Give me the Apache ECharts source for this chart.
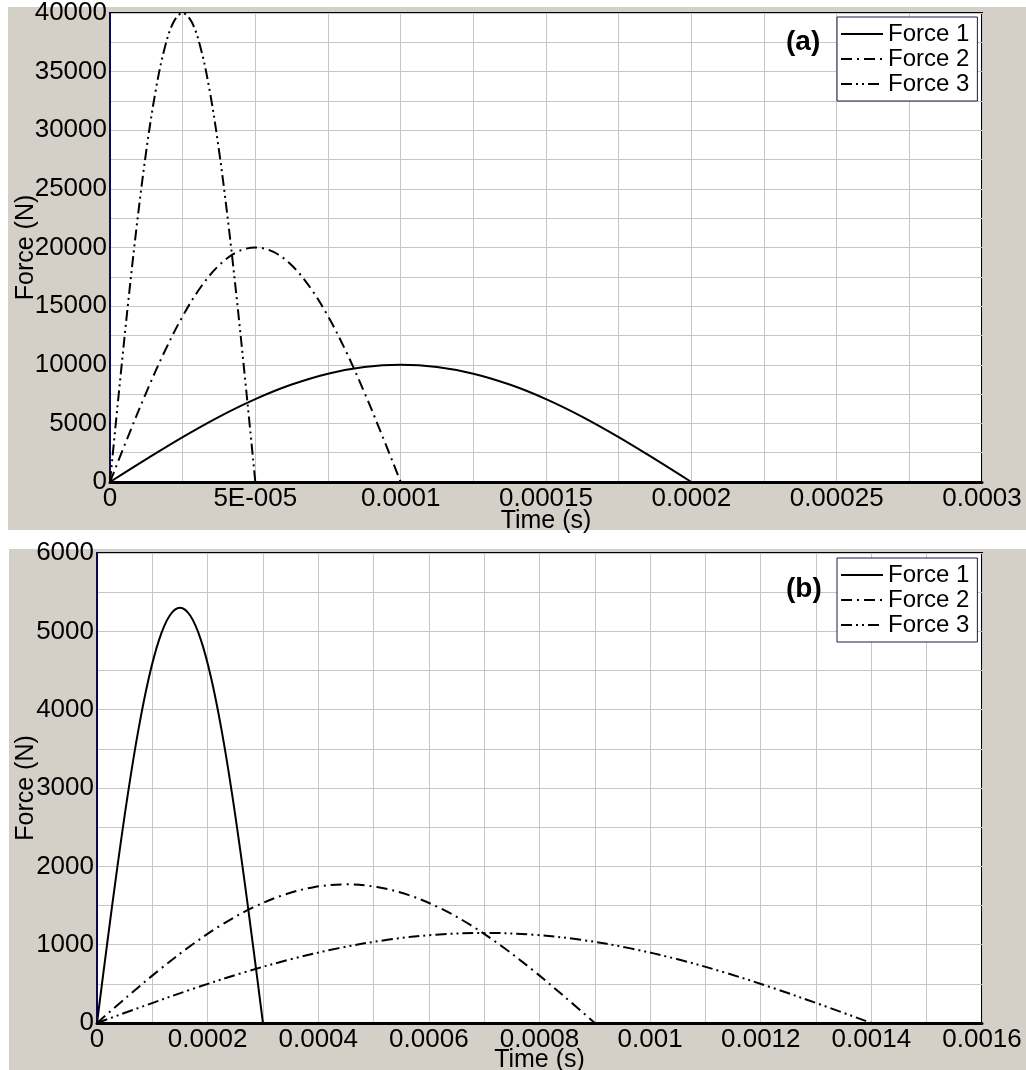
<!DOCTYPE html>
<html>
<head>
<meta charset="utf-8">
<script src="https://cdn.jsdelivr.net/npm/echarts@6/dist/echarts.min.js"></script>
<style>
  html, body { margin: 0; padding: 0; background: #ffffff; }
  #chart { width: 1026px; height: 1070px; }
</style>
</head>
<body>
<div id="chart"></div>
<script>
// ---------- Panel (a) data ----------
// each pulse is followed by a break (null) and then the flat zero tail
const seriesNames = ['Force 1', 'Force 2', 'Force 3'];

const timeA1 = [0, 0.0000125, 0.000025, 0.0000375, 0.00005, 0.0000625, 0.000075, 0.0000875, 0.0001, 0.0001125, 0.000125, 0.0001375, 0.00015, 0.0001625, 0.000175, 0.0001875, 0.0002, 0.0002, 0.0002, 0.0003];
const forceA1 = [0, 1950, 3830, 5560, 7070, 8310, 9240, 9810, 10000, 9810, 9240, 8310, 7070, 5560, 3830, 1950, 0, null, 0, 0];

const timeA2 = [0, 0.00000625, 0.0000125, 0.00001875, 0.000025, 0.00003125, 0.0000375, 0.00004375, 0.00005, 0.00005625, 0.0000625, 0.00006875, 0.000075, 0.00008125, 0.0000875, 0.00009375, 0.0001, 0.0001, 0.0001, 0.0003];
const forceA2 = [0, 3900, 7650, 11110, 14140, 16630, 18480, 19620, 20000, 19620, 18480, 16630, 14140, 11110, 7650, 3900, 0, null, 0, 0];

const timeA3 = [0, 0.000003125, 0.00000625, 0.000009375, 0.0000125, 0.000015625, 0.00001875, 0.000021875, 0.000025, 0.000028125, 0.00003125, 0.000034375, 0.0000375, 0.000040625, 0.00004375, 0.000046875, 0.00005, 0.00005, 0.00005, 0.0003];
const forceA3 = [0, 7800, 15310, 22220, 28280, 33260, 36960, 39230, 40000, 39230, 36960, 33260, 28280, 22220, 15310, 7800, 0, null, 0, 0];

const xLabelsA = ['0', '5E-005', '0.0001', '0.00015', '0.0002', '0.00025', '0.0003'];
const yLabelsA = ['0', '5000', '10000', '15000', '20000', '25000', '30000', '35000', '40000'];

// ---------- Panel (b) data ----------
const timeB1 = [0, 0.00001875, 0.0000375, 0.00005625, 0.000075, 0.00009375, 0.0001125, 0.00013125, 0.00015, 0.00016875, 0.0001875, 0.00020625, 0.000225, 0.00024375, 0.0002625, 0.00028125, 0.0003, 0.0003, 0.0003, 0.0016];
const forceB1 = [0, 1034, 2028, 2945, 3748, 4407, 4897, 5198, 5300, 5198, 4897, 4407, 3748, 2945, 2028, 1034, 0, null, 0, 0];

const timeB2 = [0, 0.00005625, 0.0001125, 0.00016875, 0.000225, 0.00028125, 0.0003375, 0.00039375, 0.00045, 0.00050625, 0.0005625, 0.00061875, 0.000675, 0.00073125, 0.0007875, 0.00084375, 0.0009, 0.0009, 0.0009, 0.0016];
const forceB2 = [0, 345, 677, 983, 1252, 1472, 1635, 1736, 1770, 1736, 1635, 1472, 1252, 983, 677, 345, 0, null, 0, 0];

const timeB3 = [0, 0.0000875, 0.000175, 0.0002625, 0.00035, 0.0004375, 0.000525, 0.0006125, 0.0007, 0.0007875, 0.000875, 0.0009625, 0.00105, 0.0011375, 0.001225, 0.0013125, 0.0014, 0.0014, 0.0014, 0.0016];
const forceB3 = [0, 224, 440, 639, 813, 956, 1062, 1128, 1150, 1128, 1062, 956, 813, 639, 440, 224, 0, null, 0, 0];

const xLabelsB = ['0', '0.0002', '0.0004', '0.0006', '0.0008', '0.001', '0.0012', '0.0014', '0.0016'];
const yLabelsB = ['0', '1000', '2000', '3000', '4000', '5000', '6000'];

// ---------- helpers ----------
const FONT = 'Liberation Sans';
const pair = (xs, ys) => xs.map((x, i) => [x, ys[i]]);
const dashes = [null, [11, 5, 2, 5], [11, 4, 2, 4, 2, 4]];
const everyOther = (labels, step) => (v) => {
  const k = Math.round(v / step);
  return k % 2 === 0 ? (labels[k / 2] !== undefined ? labels[k / 2] : '') : '';
};

const gridLine = { show: true, lineStyle: { color: '#c6c6c6', width: 1 } };
const tickLabel = { color: '#000', fontFamily: FONT, fontSize: 26, margin: 4 };

function xAxisCfg(gridIndex, max, step, labels, nameGap) {
  return {
    type: 'value', gridIndex, min: 0, max, interval: step,
    name: 'Time (s)', nameLocation: 'middle', nameGap, nameMoveOverlap: false,
    nameTextStyle: { color: '#000', fontFamily: FONT, fontSize: 25 },
    axisLine: { show: true, onZero: false, lineStyle: { color: '#000', width: 3 } },
    axisTick: { show: false },
    splitLine: gridLine,
    axisLabel: Object.assign({}, tickLabel, { formatter: everyOther(labels, step), showMinLabel: true, showMaxLabel: true })
  };
}
function yAxisCfg(gridIndex, max, step, labels, nameGap) {
  return {
    type: 'value', gridIndex, min: 0, max, interval: step,
    name: 'Force (N)', nameLocation: 'middle', nameGap, nameMoveOverlap: false,
    nameTextStyle: { color: '#000', fontFamily: FONT, fontSize: 25 },
    axisLine: { show: true, onZero: false, lineStyle: { color: '#0a0a50', width: 2 } },
    axisTick: { show: false },
    splitLine: gridLine,
    axisLabel: Object.assign({}, tickLabel, { margin: 3, formatter: everyOther(labels, step) })
  };
}
function lineSeries(name, data, k, xi) {
  return {
    type: 'line', name, data, xAxisIndex: xi, yAxisIndex: xi,
    symbol: 'none', showSymbol: false, smooth: 0.35, connectNulls: false, animation: false,
    lineStyle: { color: '#000', width: 2, type: dashes[k] || 'solid' },
    itemStyle: { color: '#000' }
  };
}
function legendCfg(top) {
  return {
    data: seriesNames, orient: 'vertical', left: 837, top,
    backgroundColor: '#fff', borderColor: '#1a1a4a', borderWidth: 1, borderRadius: 0,
    padding: [5, 8, 5, 3], itemGap: 1, itemWidth: 42, itemHeight: 14,
    itemStyle: { opacity: 0, color: 'transparent', borderWidth: 0 },
    lineStyle: { width: 2 },
    textStyle: { color: '#000', fontFamily: FONT, fontSize: 24, lineHeight: 24 },
    selectedMode: false, inactiveColor: '#000'
  };
}

const chart = echarts.init(document.getElementById('chart'), null, { renderer: 'canvas' });
chart.setOption({
  backgroundColor: '#ffffff',
  animation: false,
  graphic: [
    { type: 'rect', z: -10, silent: true, shape: { x: 8, y: 7, width: 1018, height: 523 }, style: { fill: '#d4d0c8' } },
    { type: 'rect', z: -10, silent: true, shape: { x: 9, y: 549, width: 1017, height: 521 }, style: { fill: '#d4d0c8' } },
    { type: 'text', z: 10, left: 786, top: 28, style: { text: '(a)', fontFamily: FONT, fontWeight: 'bold', fontSize: 28, fill: '#000' } },
    { type: 'text', z: 10, left: 786, top: 575, style: { text: '(b)', fontFamily: FONT, fontWeight: 'bold', fontSize: 28, fill: '#000' } }
  ],
  grid: [
    { left: 110, top: 13, width: 872, height: 469, outerBoundsMode: 'none', containLabel: false, show: true, backgroundColor: '#fff', borderColor: '#000', borderWidth: 2 },
    { left: 97, top: 553, width: 885, height: 470, outerBoundsMode: 'none', containLabel: false, show: true, backgroundColor: '#fff', borderColor: '#000', borderWidth: 2 }
  ],
  xAxis: [
    xAxisCfg(0, 0.0003, 0.000025, xLabelsA, 27),
    xAxisCfg(1, 0.0016, 0.0001, xLabelsB, 25)
  ],
  yAxis: [
    yAxisCfg(0, 40000, 2500, yLabelsA, 71),
    yAxisCfg(1, 6000, 500, yLabelsB, 58)
  ],
  legend: [legendCfg(17), legendCfg(558)],
  series: [
    lineSeries(seriesNames[0], pair(timeA1, forceA1), 0, 0),
    lineSeries(seriesNames[1], pair(timeA2, forceA2), 1, 0),
    lineSeries(seriesNames[2], pair(timeA3, forceA3), 2, 0),
    lineSeries(seriesNames[0], pair(timeB1, forceB1), 0, 1),
    lineSeries(seriesNames[1], pair(timeB2, forceB2), 1, 1),
    lineSeries(seriesNames[2], pair(timeB3, forceB3), 2, 1)
  ]
});
</script>
</body>
</html>
